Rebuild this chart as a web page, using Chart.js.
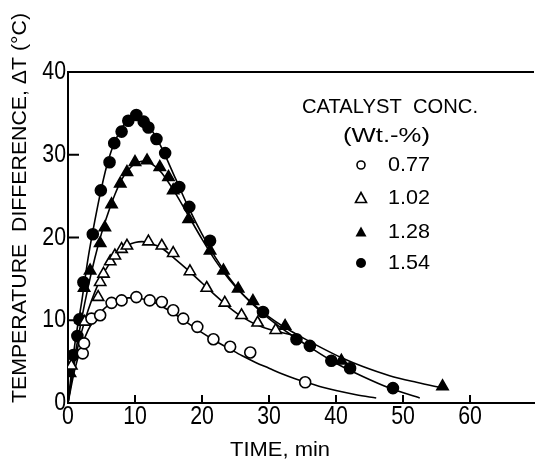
<!DOCTYPE html>
<html>
<head>
<meta charset="utf-8">
<script src="https://cdn.jsdelivr.net/npm/chart.js@4/dist/chart.umd.min.js"></script>
<style>
  html, body { margin: 0; padding: 0; background: #fff; overflow: hidden; }
  #wrap { width: 535px; height: 463px; }
</style>
</head>
<body>
<div id="wrap"><canvas id="myChart" width="535" height="463"></canvas></div>
<script>
// measured points (time in min, temperature difference in C)
var t077 = [2.2, 2.4, 3.5, 4.8, 6.5, 8.0, 10.2, 12.2, 14.0, 15.7, 17.2, 19.3, 21.7, 24.2, 27.2, 35.4];
var v077 = [6.0, 7.2, 10.2, 10.6, 12.1, 12.4, 12.8, 12.4, 12.2, 11.2, 10.2, 9.2, 7.7, 6.8, 6.1, 2.5];

var t102 = [0.5, 2.5, 4.5, 4.8, 5.3, 6.3, 7.0, 8.0, 8.8, 12.0, 14.0, 15.7, 18.2, 20.7, 23.4, 25.9, 28.3, 31.0];
var v102 = [4.5, 9.8, 12.8, 14.6, 15.6, 17.1, 17.8, 18.6, 19.0, 19.5, 19.0, 18.1, 15.9, 13.9, 12.1, 10.6, 9.7, 8.8];

var t128 = [0.3, 1.9, 2.4, 3.3, 4.8, 5.5, 6.5, 7.8, 8.8, 10.0, 11.8, 13.7, 15.0, 15.7, 18.0, 21.2, 23.2, 25.4, 27.6, 32.4, 40.8, 55.9];
var v128 = [3.6, 10.1, 13.9, 16.0, 19.3, 21.2, 24.0, 26.5, 27.9, 29.1, 29.3, 28.5, 27.3, 25.7, 22.2, 18.4, 16.0, 13.8, 12.3, 9.3, 5.1, 2.0];

var t154 = [0.8, 1.4, 1.7, 2.3, 3.7, 4.9, 6.2, 6.9, 8.0, 9.0, 10.2, 11.3, 12.0, 13.2, 14.5, 16.6, 18.1, 21.2, 29.1, 34.1, 36.1, 39.3, 42.1, 48.5];
var v154 = [5.8, 8.1, 10.1, 14.6, 20.4, 25.7, 29.1, 31.4, 32.8, 34.1, 34.8, 34.0, 33.3, 31.9, 30.2, 26.1, 23.7, 19.6, 11.0, 7.7, 6.9, 5.1, 4.2, 1.8];

// fitted curves
var ct077 = [0, 1, 2, 3, 4, 5, 6, 7, 8, 9, 10, 11, 12, 13, 14, 16, 18, 20, 22, 24, 26, 28, 30, 32, 34, 36, 38, 40, 43, 46];
var cv077 = [0, 4.0, 6.8, 8.8, 10.2, 11.1, 11.8, 12.2, 12.5, 12.7, 12.7, 12.6, 12.4, 12.1, 11.7, 10.7, 9.6, 8.5, 7.5, 6.6, 5.7, 4.9, 4.2, 3.5, 2.9, 2.4, 1.9, 1.5, 1.0, 0.6];

var ct102 = [0, 1, 2, 3, 4, 5, 6, 7, 8, 9, 10, 11, 12, 13, 14, 16, 18, 20, 22, 24, 26, 28, 30, 32, 34];
var cv102 = [0, 5.0, 8.5, 11.2, 13.4, 15.2, 16.6, 17.7, 18.6, 19.1, 19.4, 19.5, 19.4, 19.1, 18.7, 17.4, 16.0, 14.5, 13.0, 11.6, 10.4, 9.5, 8.9, 8.5, 8.1];

var ct128 = [0, 1, 2, 3, 4, 5, 6, 7, 8, 9, 10, 11, 12, 13, 14, 16, 18, 20, 22, 24, 26, 28, 30, 32, 35, 38, 41, 44, 48, 52, 56];
var cv128 = [0, 5.5, 10.0, 14.0, 17.5, 20.5, 23.0, 25.2, 27.0, 28.2, 28.9, 29.2, 29.1, 28.6, 27.8, 25.4, 22.6, 19.8, 17.2, 15.0, 13.2, 11.7, 10.4, 9.3, 7.9, 6.6, 5.4, 4.4, 3.3, 2.5, 1.8];

var ct154 = [0, 1, 2, 3, 4, 5, 6, 7, 8, 9, 10, 11, 12, 13, 14, 16, 18, 20, 22, 24, 26, 28, 30, 33, 36, 40, 44, 48, 52.5];
var cv154 = [0, 7.0, 12.0, 17.5, 22.0, 26.0, 29.3, 31.6, 33.2, 34.3, 34.8, 34.5, 33.6, 32.3, 30.8, 27.2, 23.6, 20.4, 17.6, 15.2, 13.2, 11.6, 10.2, 8.4, 6.8, 4.8, 3.2, 1.8, 0.6];

var xTicks = [0, 10, 20, 30, 40, 50, 60];
var yTicks = [0, 10, 20, 30, 40];
var seriesLabels = ['0.77', '1.02', '1.28', '1.54'];

var FONT = "'Liberation Sans', 'DejaVu Sans', sans-serif";

function pts(t, v) {
  var out = [];
  for (var i = 0; i < t.length; i++) out.push({x: t[i], y: v[i]});
  return out;
}

function marks(label, t, v, style, filled) {
  return {
    label: label,
    data: pts(t, v),
    showLine: false,
    pointStyle: style,
    pointRadius: style == 'triangle' ? 6.5 : 5.5,
    pointBackgroundColor: filled ? '#000' : '#fff',
    pointBorderColor: '#000',
    pointBorderWidth: 1.6,
    order: 0
  };
}

function curve(t, v) {
  return {
    data: pts(t, v),
    showLine: true,
    borderColor: '#000',
    borderWidth: 1.6,
    pointRadius: 0,
    cubicInterpolationMode: 'monotone',
    fill: false,
    order: 1
  };
}

// draw text squeezed/stretched horizontally to an exact width
function fitText(ctx, text, x, y, w, align) {
  var m = ctx.measureText(text).width;
  var sx = w ? w / m : 0.82;
  var rw = m * sx;
  var left = x;
  if (align == 'center') left = x - rw / 2;
  if (align == 'right') left = x - rw;
  ctx.save();
  ctx.translate(left, y);
  ctx.scale(sx, 1);
  ctx.textAlign = 'left';
  ctx.fillText(text, 0, 0);
  ctx.restore();
}

// inward ticks, tick labels, top frame line, legend and axis titles
var decor = {
  id: 'decor',
  afterDraw: function(chart) {
    var ctx = chart.ctx;
    var xs = chart.scales.x, ys = chart.scales.y;
    var a = chart.chartArea;
    ctx.save();
    ctx.strokeStyle = '#000';
    ctx.fillStyle = '#000';
    ctx.lineWidth = 2;
    ctx.beginPath();
    ctx.moveTo(a.left - 1, a.top);
    ctx.lineTo(a.right, a.top);
    xTicks.forEach(function(t) {
      if (t == 0) return;
      var px = xs.getPixelForValue(t);
      ctx.moveTo(px, a.bottom);
      ctx.lineTo(px, a.bottom - 8);
    });
    yTicks.forEach(function(v) {
      if (v == 0 || v == 40) return;
      var py = ys.getPixelForValue(v);
      ctx.moveTo(a.left, py);
      ctx.lineTo(a.left + 11, py);
    });
    ctx.stroke();

    ctx.font = '26px ' + FONT;
    ctx.textBaseline = 'middle';
    yTicks.forEach(function(v) {
      fitText(ctx, String(v), a.left - 2, ys.getPixelForValue(v), 0, 'right');
    });
    xTicks.forEach(function(t) {
      fitText(ctx, String(t), xs.getPixelForValue(t), a.bottom + 14, 0, 'center');
    });

    ctx.font = '21px ' + FONT;
    fitText(ctx, 'CATALYST  CONC.', 302, 107, 176);
    fitText(ctx, '(Wt.-%)', 343, 136, 87);

    var rows = [165, 198, 232, 263];
    var styles = [['circle', false], ['triangle', false], ['triangle', true], ['circle', true]];
    for (var i = 0; i < 4; i++) {
      var y = rows[i];
      fitText(ctx, seriesLabels[i], 388, y, 42);
      ctx.beginPath();
      if (styles[i][0] == 'circle') {
        ctx.arc(361, y, styles[i][1] ? 5 : 4, 0, Math.PI * 2);
      } else {
        ctx.moveTo(361, y - 5.5);
        ctx.lineTo(366.5, y + 4.5);
        ctx.lineTo(355.5, y + 4.5);
        ctx.closePath();
      }
      ctx.lineWidth = 1.6;
      if (styles[i][1]) ctx.fill(); else ctx.stroke();
    }

    fitText(ctx, 'TIME, min', 280, 450, 100, 'center');

    ctx.translate(20, 208);
    ctx.rotate(-Math.PI / 2);
    fitText(ctx, 'TEMPERATURE  DIFFERENCE, \u0394T (\u00B0C)', 0, 0, 390, 'center');
    ctx.restore();
  }
};

const ctx = document.getElementById('myChart');
const myChart = new Chart(ctx, {
  type: 'scatter',
  data: {
    datasets: [
      marks('0.77', t077, v077, 'circle', false),
      marks('1.02', t102, v102, 'triangle', false),
      marks('1.28', t128, v128, 'triangle', true),
      marks('1.54', t154, v154, 'circle', true),
      curve(ct077, cv077),
      curve(ct102, cv102),
      curve(ct128, cv128),
      curve(ct154, cv154)
    ]
  },
  options: {
    responsive: false,
    animation: false,
    layout: { autoPadding: false, padding: { top: 72, right: 1, left: 0, bottom: 0 } },
    plugins: {
      legend: { display: false },
      tooltip: { enabled: false }
    },
    scales: {
      x: {
        type: 'linear',
        min: 0,
        max: 69.55,
        afterFit: function(s) { s.height = 60; },
        grid: { display: false, drawTicks: false },
        border: { display: true, color: '#000', width: 2 },
        ticks: { display: false, stepSize: 10 }
      },
      y: {
        type: 'linear',
        min: 0,
        max: 40,
        afterFit: function(s) { s.width = 68; },
        grid: { display: false, drawTicks: false },
        border: { display: true, color: '#000', width: 2 },
        ticks: { display: false, stepSize: 10 }
      }
    }
  },
  plugins: [decor]
});
</script>
</body>
</html>
